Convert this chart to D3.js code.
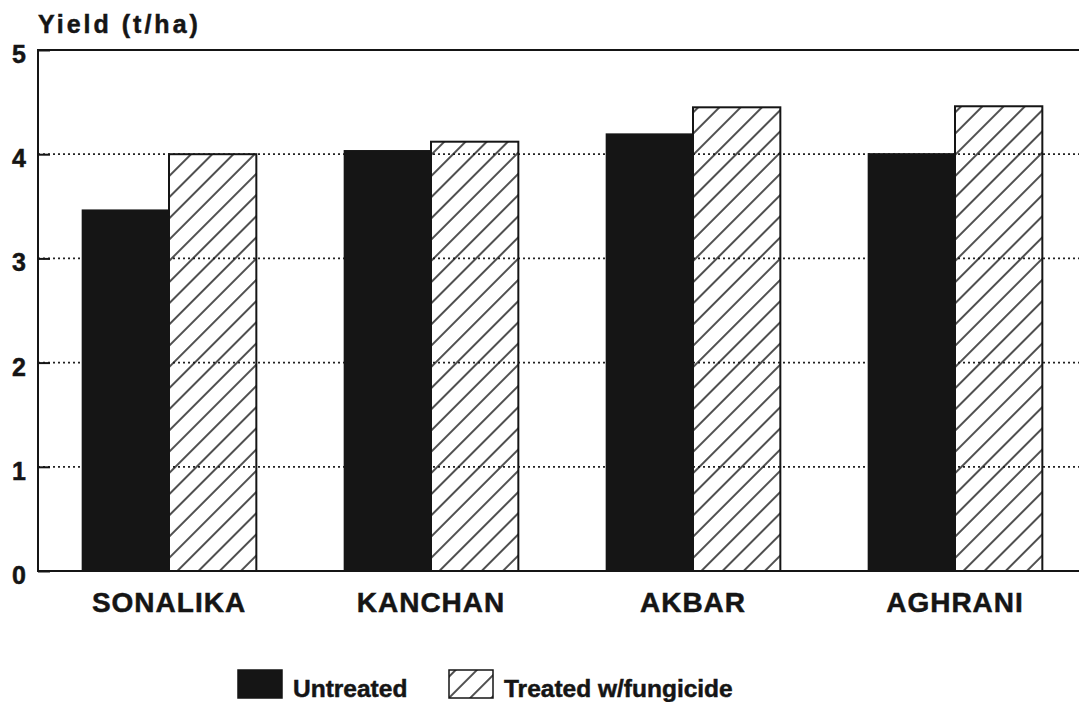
<!DOCTYPE html>
<html>
<head>
<meta charset="utf-8">
<script src="https://cdn.jsdelivr.net/npm/d3@7"></script>
<style>
  body { margin: 0; background: #fff; }
  text { font-family: "Liberation Sans", Arial, sans-serif; font-weight: bold; fill: #151515; stroke: #151515; stroke-width: 0.5px; }
</style>
</head>
<body>
<div id="chart"></div>
<script>
// data
var categories = ["SONALIKA", "KANCHAN", "AKBAR", "AGHRANI"];
var seriesNames = ["Untreated", "Treated w/fungicide"];
var untreated = [3.47, 4.04, 4.20, 4.01];
var treated = [4.00, 4.12, 4.45, 4.46];
var yTicks = [0, 1, 2, 3, 4, 5];

//set chart
var svgWidth = 1079;
var svgHeight = 702;

var margin = { top: 50, left: 38 };
var width = 1048;   // right edge runs off the page, as in the scan
var height = 521;

var svg = d3.select("#chart")
  .append("svg")
  .attr("width", svgWidth)
  .attr("height", svgHeight);

// hatch for the treated bars
var defs = svg.append("defs");
defs.append("pattern")
  .attr("id", "hatch")
  .attr("patternUnits", "userSpaceOnUse")
  .attr("width", 15)
  .attr("height", 15)
  .attr("patternTransform", "rotate(45)")
  .append("line")
  .attr("x1", 0).attr("y1", -2)
  .attr("x2", 0).attr("y2", 17)
  .attr("stroke", "#151515")
  .attr("stroke-width", 1.5)
  .attr("transform", "translate(1,0)");

var chartGroup = svg.append("g")
  .attr("transform", `translate(${margin.left}, ${margin.top})`);

// scales
var x0 = d3.scaleBand()
  .domain(categories)
  .range([0, width])
  .paddingInner(1 / 3)
  .paddingOuter(1 / 6);

var x1 = d3.scaleBand()
  .domain(seriesNames)
  .range([0, x0.bandwidth()]);

var y = d3.scaleLinear()
  .domain([0, 5])
  .range([height, 0]);

// dotted gridlines
chartGroup.selectAll(".grid")
  .data(yTicks.filter(d => d > 0 && d < 5))
  .enter()
  .append("line")
  .attr("class", "grid")
  .attr("x1", 0)
  .attr("x2", width)
  .attr("y1", d => y(d))
  .attr("y2", d => y(d))
  .attr("stroke", "#222")
  .attr("stroke-width", 1.8)
  .attr("stroke-dasharray", "2,3");

// bars
var rows = categories.map((c, i) => ({ cat: c, values: [untreated[i], treated[i]] }));

var groups = chartGroup.selectAll(".group")
  .data(rows)
  .enter()
  .append("g")
  .attr("transform", d => `translate(${x0(d.cat)}, 0)`);

groups.selectAll("rect")
  .data(d => d.values.map((v, j) => ({ key: seriesNames[j], value: v })))
  .enter()
  .append("rect")
  .attr("x", d => x1(d.key))
  .attr("y", d => y(d.value))
  .attr("width", x1.bandwidth())
  .attr("height", d => height - y(d.value))
  .attr("fill", d => d.key === "Untreated" ? "#151515" : "url(#hatch)")
  .attr("stroke", d => d.key === "Untreated" ? "none" : "#151515")
  .attr("stroke-width", 2);

// frame and axis
var leftAxis = d3.axisLeft(y)
  .tickValues(yTicks)
  .tickSize(-12)
  .tickPadding(12)
  .tickFormat(d3.format("d"));

var yAxis = chartGroup.append("g").call(leftAxis);
yAxis.select(".domain").remove();
yAxis.selectAll(".tick line").attr("stroke", "#151515").attr("stroke-width", 2);
yAxis.selectAll(".tick text")
  .style("font-size", "25px")
  .attr("dy", "0.5em")
  .attr("fill", "#151515");

chartGroup.append("rect")
  .attr("x", 0)
  .attr("y", 0)
  .attr("width", width)
  .attr("height", height)
  .attr("fill", "none")
  .attr("stroke", "#151515")
  .attr("stroke-width", 2);

// category labels
chartGroup.selectAll(".xlabel")
  .data(categories)
  .enter()
  .append("text")
  .attr("x", d => x0(d) + x0.bandwidth() / 2)
  .attr("y", height + 41)
  .attr("text-anchor", "middle")
  .attr("font-size", "28px")
  .attr("letter-spacing", "1px")
  .text(d => d);

// axis title
svg.append("text")
  .attr("x", 38)
  .attr("y", 33)
  .attr("font-size", "25px")
  .attr("letter-spacing", "3px")
  .text("Yield (t/ha)");

// legend
var legend = svg.append("g");
var legendX = [238, 449];
seriesNames.forEach(function (name, i) {
  legend.append("rect")
    .attr("x", legendX[i])
    .attr("y", 670)
    .attr("width", 44)
    .attr("height", 28)
    .attr("fill", i === 0 ? "#151515" : "url(#hatch)")
    .attr("stroke", "#151515")
    .attr("stroke-width", 1.5);
  legend.append("text")
    .attr("x", legendX[i] + 55)
    .attr("y", 697)
    .attr("font-size", "24.5px")
    .text(name);
});
</script>
</body>
</html>
